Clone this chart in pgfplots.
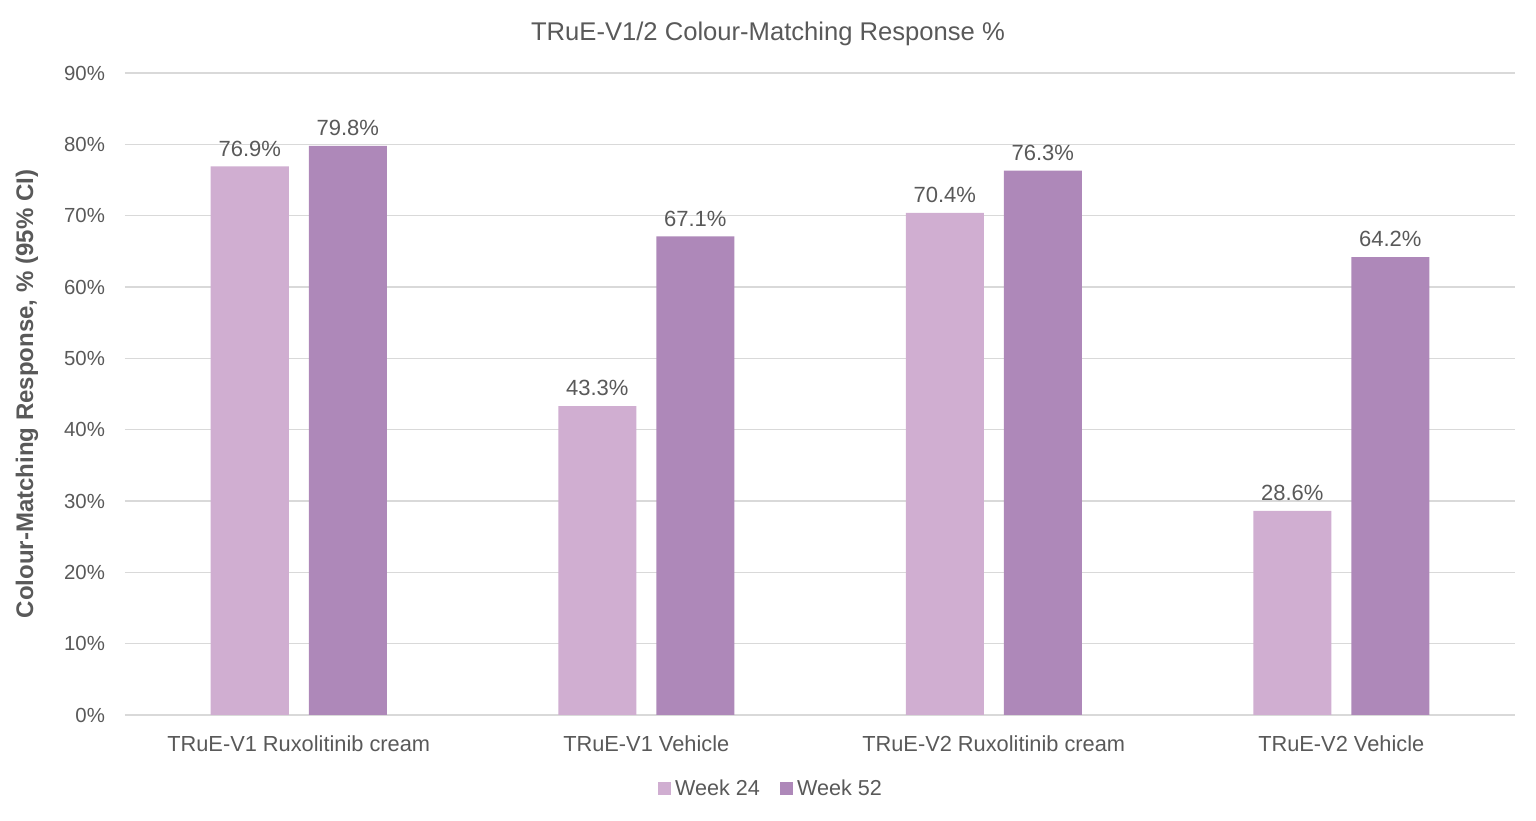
\documentclass[border=0pt]{standalone}
\usepackage{pgfplots}
\pgfplotsset{compat=1.18}
\usepackage{fontspec}
\setmainfont{Liberation Sans}
\definecolor{wkA}{HTML}{D0AED1}
\definecolor{wkB}{HTML}{AE88B9}
\definecolor{txt}{HTML}{595959}
\definecolor{grd}{HTML}{D9D9D9}
\begin{document}
\begin{tikzpicture}
\begin{axis}[
  name=a,
  scale only axis,
  width=695pt, height=321pt,
  xmin=-0.5, xmax=3.5,
  ymin=0, ymax=90,
  ytick={0,10,...,90},
  xtick={0,1,2,3},
  xticklabels={TRuE-V1 Ruxolitinib cream, TRuE-V1 Vehicle, TRuE-V2 Ruxolitinib cream, TRuE-V2 Vehicle},
  yticklabel={\pgfmathprintnumber{\tick}\%},
  /pgf/number format/assume math mode=true,
  ymajorgrids,
  major grid style={grd, line width=0.8pt},
  axis line style={draw=none},
  major tick style={draw=none},
  yticklabel style={font=\fontsize{10.2}{12}\selectfont, text=txt, xshift=-6.5pt},
  xticklabel style={font=\fontsize{10.9}{13}\selectfont, text=txt, yshift=-2.5pt},
  ylabel={\bfseries Colour-Matching Response, \% (95\% CI)},
  ylabel style={font=\fontsize{12}{14}\selectfont, text=txt, at={(axis description cs:0,0.5)}, anchor=center, yshift=49pt},
  title={TRuE-V1/2 Colour-Matching Response \%},
  title style={font=\fontsize{12.8}{15}\selectfont, text=txt, at={(axis description cs:0.5,1)}, anchor=center, xshift=-26pt, yshift=13.5pt},
  ybar, bar width=39pt,
  nodes near coords={\pgfmathprintnumber[fixed,fixed zerofill,precision=1]{\pgfplotspointmeta}\%},
  nodes near coords style={font=\fontsize{11}{13}\selectfont, text=txt, yshift=1.5pt},
  legend style={at={(axis description cs:0.5,0)}, anchor=center, xshift=-24pt, yshift=-37pt, draw=none, legend columns=2, font=\fontsize{10.8}{13}\selectfont, text=txt, /tikz/every even column/.append style={column sep=8pt}},
  legend image code/.code={\fill[#1] (0pt,-3.25pt) rectangle (6.5pt,3.25pt);},
]
\addplot[fill=wkA, draw=none, bar shift=-24.5pt] coordinates {(0,76.9) (1,43.3) (2,70.4) (3,28.6)};
\addplot[fill=wkB, draw=none, bar shift=24.5pt] coordinates {(0,79.8) (1,67.1) (2,76.3) (3,64.2)};
\legend{Week 24, Week 52}
\end{axis}
\pgfresetboundingbox
\useasboundingbox ([xshift=-62.5pt,yshift=-53pt]a.south west) rectangle ([xshift=10.5pt,yshift=36.5pt]a.north east);
\end{tikzpicture}
\end{document}
